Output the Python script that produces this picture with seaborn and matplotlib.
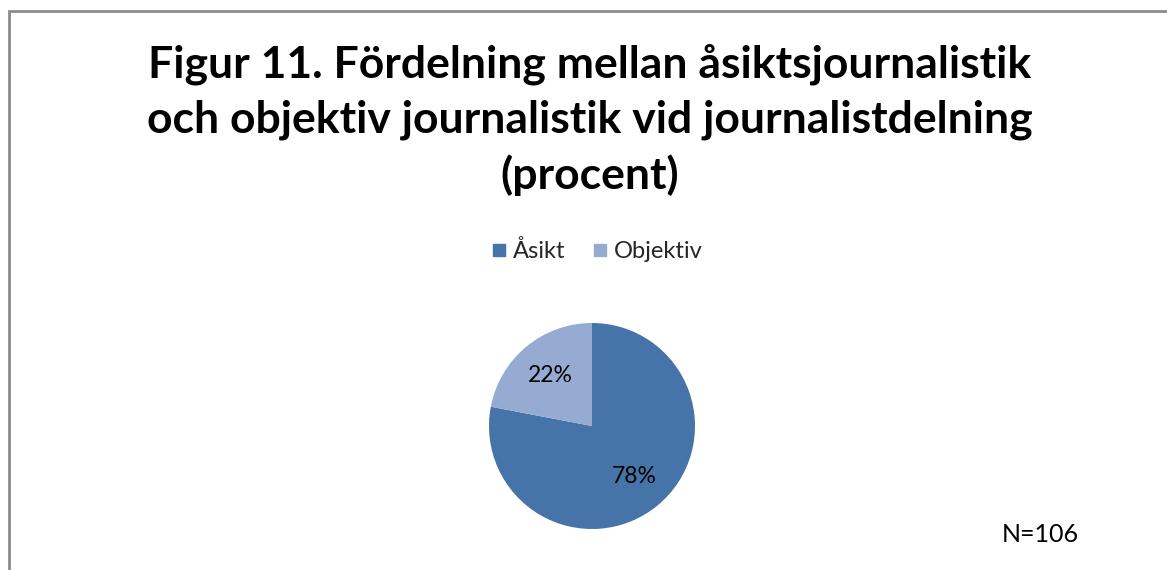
import matplotlib
matplotlib.use("Agg")
import matplotlib.pyplot as plt
import seaborn as sns
from matplotlib.patches import Rectangle
from matplotlib.lines import Line2D

categories = ["Åsikt", "Objektiv"]
values = [78, 22]
colors = ["#4674A8", "#95ABD1"]
title_text = "Figur 11. Fördelning mellan åsiktsjournalistik\noch objektiv journalistik vid journalistdelning\n(procent)"
note_text = "N=106"

sns.set_theme(style="white")
plt.rcParams["font.family"] = ["Lato", "DejaVu Sans"]

W, H = 1167, 570
fig = plt.figure(figsize=(W / 100, H / 100), dpi=100)
fig.patch.set_facecolor("white")

# border
fig.add_artist(Rectangle((9 / W, -0.1), 1.2, 1 - 11 / H + 0.1, transform=fig.transFigure,
                         fill=False, edgecolor="#8C8C8C", linewidth=2))

cx, cy, r = 592, 426, 103
ax = fig.add_axes([(cx - r) / W, (H - cy - r) / H, 2 * r / W, 2 * r / H])
wedges, texts, autotexts = ax.pie(values, colors=colors, startangle=90, counterclock=False,
                                  autopct=lambda p: f"{p:.0f}%", pctdistance=0.64,
                                  textprops=dict(fontsize=16.5, color="black"),
                                  wedgeprops=dict(linewidth=0))
ax.set_xlim(-1, 1)
ax.set_ylim(-1, 1)
ax.set_aspect("equal")
ax.axis("off")

fig.text(590 / W, 1 - 189 / H, title_text, ha="center", va="baseline", fontsize=32,
         fontweight="bold", linespacing=1.42, color="black", multialignment="center")

handles = [Line2D([0], [0], marker="s", linestyle="none", markersize=9,
                  markerfacecolor=c, markeredgecolor=c) for c in colors]
fig.legend(handles, categories, loc="center", bbox_to_anchor=(597 / W, 1 - 251 / H),
           ncol=2, frameon=False, fontsize=17, handletextpad=0.25, columnspacing=1.1,
           handlelength=0.7)

fig.text(1040 / W, 1 - 535 / H, note_text, ha="center", va="center", fontsize=18, color="black")

fig.savefig("out.png", dpi=100, facecolor="white")
